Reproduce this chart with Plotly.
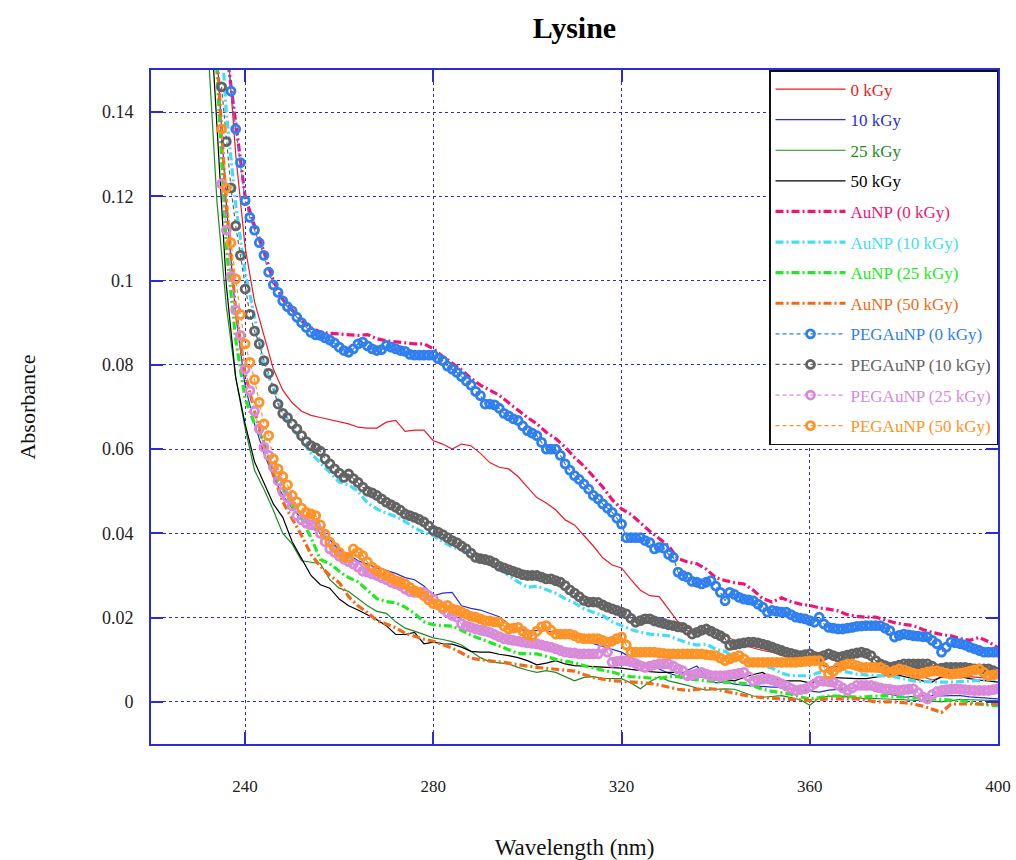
import plotly.graph_objects as go

# ---- wavelength grids (nm) ----
WL_LINE = list(range(232, 401, 2))   # solid / dashed spectra
WL_PEG = list(range(235, 401, 1))    # PEG-AuNP spectra (marker series)

# ---- Lysine solutions, absorbance ----
abs_0kGy = [
    0.22, 0.19, 0.160, 0.130, 0.108,
    0.095, 0.087, 0.079, 0.074, 0.071,
    0.069, 0.068, 0.0675, 0.067, 0.0665,
    0.066, 0.0652, 0.065, 0.065, 0.0664,
    0.0668, 0.0642, 0.0645, 0.0645, 0.062,
    0.0612, 0.060, 0.0612, 0.0608, 0.059,
    0.0568, 0.0557, 0.0553, 0.0535, 0.051,
    0.0485, 0.0472, 0.0456, 0.0432, 0.042,
    0.0395, 0.037, 0.0342, 0.0325, 0.0318,
    0.029, 0.0265, 0.0252, 0.025, 0.022,
    0.019, 0.0175, 0.0168, 0.017, 0.0172,
    0.0157, 0.0145, 0.0135, 0.0128, 0.0122,
    0.0118, 0.011, 0.0105, 0.010, 0.0095,
    0.009, 0.0082, 0.0085, 0.008, 0.0078,
    0.0075, 0.0072, 0.007, 0.0068, 0.0066,
    0.0062, 0.006, 0.0052, 0.0058, 0.006,
    0.0057, 0.006, 0.0058, 0.0056, 0.0058,
]
abs_10kGy = [
    0.19, 0.155, 0.118, 0.092, 0.075,
    0.066, 0.059, 0.0535, 0.049, 0.046,
    0.0435, 0.042, 0.040, 0.0385, 0.036,
    0.035, 0.0335, 0.0327, 0.0318, 0.0312,
    0.0305, 0.0295, 0.029, 0.0275, 0.0252,
    0.0258, 0.026, 0.0228, 0.0222, 0.0218,
    0.021, 0.0202, 0.0185, 0.0172, 0.0169,
    0.0169, 0.0169, 0.0163, 0.016, 0.0156,
    0.0145, 0.0138, 0.0132, 0.0125, 0.0118,
    0.0105, 0.0086, 0.0086, 0.0078, 0.0068,
    0.0062, 0.0075, 0.0085, 0.006, 0.0045,
    0.0048, 0.0042, 0.004, 0.0038, 0.0036,
    0.0035, 0.0035, 0.003, 0.0028, 0.0025,
    0.0023, 0.0028, 0.003, 0.0032, 0.0034,
    0.0035, 0.0025, 0.002, 0.0015, 0.0011,
    0.0013, 0.0015, 0.0015, 0.0014, 0.0015,
    0.0015, 0.0012, 0.001, 0.0008, 0.0007,
]
abs_25kGy = [
    0.158, 0.119, 0.094, 0.077, 0.065,
    0.055, 0.0505, 0.0455, 0.040, 0.0375,
    0.0335, 0.0332, 0.0328, 0.029, 0.027,
    0.0262, 0.0245, 0.0228, 0.0215, 0.021,
    0.019, 0.0175, 0.0168, 0.016, 0.0152,
    0.0148, 0.0143, 0.0135, 0.012, 0.0105,
    0.0095, 0.0092, 0.009, 0.0082, 0.0075,
    0.007, 0.0074, 0.007, 0.006, 0.005,
    0.0058, 0.006, 0.0056, 0.0055, 0.0055,
    0.0045, 0.0031, 0.0048, 0.006, 0.005,
    0.0045, 0.0039, 0.0033, 0.0028, 0.003,
    0.0031, 0.003, 0.0022, 0.0014, 0.0011,
    0.0013, 0.0015, 0.001, 0.0005, -0.0008,
    0.001, 0.0013, 0.0015, 0.0012, 0.0009,
    0.0007, 0.0008, 0.0007, 0.0007, 0.0006,
    0.0005, 0.0004, 0.0002, 0.0, 0.0003,
    0.0006, 0.0005, 0.0004, 0.0003, 0.0003,
]
abs_50kGy = [
    0.175, 0.137, 0.099, 0.077, 0.066,
    0.057, 0.052, 0.047, 0.0438, 0.038,
    0.034, 0.030, 0.0278, 0.027, 0.0244,
    0.0228, 0.0218, 0.0207, 0.0195, 0.0181,
    0.016, 0.016, 0.0165, 0.0138, 0.0142,
    0.0138, 0.0137, 0.013, 0.012, 0.0118,
    0.0118, 0.0113, 0.011, 0.0105, 0.0098,
    0.0088, 0.0092, 0.0098, 0.009, 0.0086,
    0.0085, 0.0084, 0.0083, 0.0082, 0.008,
    0.0077, 0.0074, 0.0072, 0.007, 0.007,
    0.007, 0.0065, 0.006, 0.0058, 0.0055,
    0.0052, 0.005, 0.0058, 0.0065, 0.007,
    0.0055, 0.005, 0.005, 0.005, 0.0045,
    0.005, 0.0058, 0.0057, 0.0055, 0.0055,
    0.0055, 0.0058, 0.0062, 0.0066, 0.006,
    0.0055, 0.005, 0.0047, 0.006, 0.007,
    0.006, 0.0055, 0.0052, 0.005, 0.0047,
]

# ---- Lysine + AuNP ----
aunp_0kGy = [
    0.25, 0.19, 0.155, 0.137, 0.120,
    0.113, 0.107, 0.100, 0.0955, 0.093,
    0.0905, 0.0888, 0.0878, 0.0875, 0.0873,
    0.0872, 0.087, 0.0872, 0.0862, 0.0857,
    0.0855, 0.0852, 0.085, 0.085, 0.0838,
    0.082, 0.0805, 0.0788, 0.0768, 0.0752,
    0.074, 0.0728, 0.071, 0.0692, 0.0675,
    0.066, 0.064, 0.0625, 0.0605, 0.058,
    0.056, 0.0535, 0.051, 0.048, 0.0458,
    0.0445, 0.0425, 0.0405, 0.0388, 0.037,
    0.034, 0.0332, 0.0328, 0.0315, 0.0295,
    0.0288, 0.0283, 0.028, 0.0265, 0.0245,
    0.0237, 0.0247, 0.0238, 0.0232, 0.0229,
    0.0223, 0.022, 0.0216, 0.0207, 0.0203,
    0.0201, 0.0201, 0.0195, 0.0188, 0.0184,
    0.0181, 0.0172, 0.0165, 0.016, 0.0157,
    0.015, 0.0146, 0.0153, 0.0143, 0.0128,
]
aunp_10kGy = [
    0.21, 0.175, 0.14, 0.118, 0.102,
    0.0915, 0.080, 0.0745, 0.069, 0.065,
    0.0622, 0.059, 0.0568, 0.0545, 0.0522,
    0.0515, 0.050, 0.0472, 0.0458, 0.0448,
    0.044, 0.0428, 0.0413, 0.0402, 0.0395,
    0.038, 0.0368, 0.036, 0.0354, 0.0345,
    0.0333, 0.0318, 0.030, 0.0285, 0.0272,
    0.0275, 0.0266, 0.0258, 0.0245, 0.0235,
    0.0221, 0.0213, 0.0205, 0.019, 0.018,
    0.0172, 0.0165, 0.0161, 0.0159, 0.0157,
    0.0148, 0.014, 0.0135, 0.0137, 0.0125,
    0.012, 0.0105, 0.0095, 0.009, 0.0086,
    0.008, 0.0068, 0.0062, 0.0062, 0.0062,
    0.007, 0.0076, 0.0075, 0.007, 0.0066,
    0.0064, 0.0063, 0.0062, 0.006, 0.0055,
    0.005, 0.0048, 0.0047, 0.0047, 0.0047,
    0.0048, 0.005, 0.0051, 0.0053, 0.0055,
]
aunp_25kGy = [
    0.185, 0.15, 0.108, 0.086, 0.072,
    0.066, 0.062, 0.054, 0.0508, 0.0465,
    0.0435, 0.039, 0.0338, 0.0328, 0.031,
    0.0295, 0.0285, 0.0265, 0.0245, 0.0238,
    0.0235, 0.0225, 0.021, 0.019, 0.0183,
    0.0181, 0.018, 0.017, 0.0158, 0.015,
    0.0142, 0.0133, 0.0124, 0.0115, 0.0114,
    0.0114, 0.0108, 0.0101, 0.0097, 0.0093,
    0.0086, 0.008, 0.0075, 0.0071, 0.0064,
    0.006, 0.0058, 0.0056, 0.0055, 0.006,
    0.006, 0.0055, 0.0052, 0.005, 0.0048,
    0.0047, 0.0046, 0.0044, 0.0038, 0.003,
    0.0025, 0.0021, 0.0018, 0.0012, 0.0007,
    0.001, 0.0014, 0.0014, 0.0012, 0.0011,
    0.0012, 0.0014, 0.0015, 0.0013, 0.0011,
    0.001, 0.0009, 0.0007, 0.0005, 0.0004,
    0.0003, 0.0, -0.0005, -0.0008, -0.0009,
]
aunp_50kGy = [
    0.19, 0.155, 0.118, 0.093, 0.078,
    0.069, 0.061, 0.054, 0.0475, 0.0435,
    0.0395, 0.035, 0.0322, 0.030, 0.0283,
    0.025, 0.0228, 0.0212, 0.0193, 0.0185,
    0.0176, 0.0163, 0.0155, 0.0149, 0.0144,
    0.0136, 0.0128, 0.0116, 0.0104, 0.010,
    0.0098, 0.0095, 0.0092, 0.0088, 0.0085,
    0.0082, 0.008, 0.0078, 0.0076, 0.0073,
    0.0065, 0.0058, 0.0054, 0.005, 0.0049,
    0.0047, 0.0046, 0.0044, 0.004, 0.0035,
    0.003, 0.0027, 0.003, 0.0032, 0.003,
    0.0025, 0.002, 0.0016, 0.0012, 0.001,
    0.0008, 0.0007, 0.0006, 0.0004, 0.0003,
    0.0005, 0.0007, 0.0007, 0.0007, 0.0007,
    0.0004, 0.0, 0.0, 0.0, -0.0002,
    -0.0005, -0.001, -0.0018, -0.0025, -0.0005,
    -0.0005, -0.0005, -0.0005, -0.0005, -0.0005,
]

# ---- Lysine + PEG-AuNP (1 nm steps, 235-400 nm) ----
peg_0kGy = [
    0.175, 0.158, 0.145, 0.136, 0.128, 0.119, 0.115, 0.112, 0.109, 0.106,
    0.102, 0.099, 0.0972, 0.0952, 0.0938, 0.0928, 0.0913, 0.090, 0.0889, 0.0877,
    0.0871, 0.087, 0.0864, 0.0859, 0.0852, 0.0842, 0.0834, 0.083, 0.0838, 0.085,
    0.0854, 0.0845, 0.0838, 0.0834, 0.0836, 0.0846, 0.0842, 0.0838, 0.0834, 0.0832,
    0.0825, 0.0823, 0.0823, 0.0823, 0.0823, 0.0823, 0.0815, 0.081, 0.0797, 0.079,
    0.0782, 0.0772, 0.0762, 0.0752, 0.0737, 0.0727, 0.0707, 0.0707, 0.0705, 0.0697,
    0.0685, 0.0679, 0.0672, 0.0668, 0.0655, 0.0644, 0.0638, 0.0632, 0.0616, 0.060,
    0.060, 0.060, 0.0585, 0.0565, 0.055, 0.0537, 0.0528, 0.0517, 0.0505, 0.049,
    0.0482, 0.047, 0.046, 0.045, 0.0436, 0.0422, 0.039, 0.039, 0.039, 0.039,
    0.0383, 0.0378, 0.0363, 0.0367, 0.0365, 0.035, 0.0343, 0.0308, 0.030, 0.0296,
    0.0286, 0.0284, 0.028, 0.0284, 0.0288, 0.0275, 0.026, 0.024, 0.026, 0.0255,
    0.0248, 0.0244, 0.0242, 0.024, 0.0232, 0.0225, 0.0213, 0.0217, 0.0215, 0.0213,
    0.0213, 0.0207, 0.0201, 0.0199, 0.0197, 0.0193, 0.0189, 0.0201, 0.0185, 0.0177,
    0.0175, 0.0173, 0.0173, 0.0175, 0.0177, 0.0179, 0.018, 0.0181, 0.0181, 0.0181,
    0.0181, 0.0175, 0.0169, 0.0154, 0.0158, 0.0161, 0.0159, 0.0157, 0.0156, 0.0155,
    0.0154, 0.0146, 0.0138, 0.0118, 0.013, 0.0142, 0.014, 0.0138, 0.0135, 0.013,
    0.0126, 0.0122, 0.0118, 0.0118, 0.0118, 0.0118,
]
peg_10kGy = [
    0.146, 0.133, 0.122, 0.113, 0.106, 0.098, 0.092, 0.088, 0.085, 0.081,
    0.078, 0.0743, 0.0707, 0.0685, 0.0675, 0.066, 0.0648, 0.0632, 0.0618, 0.0608,
    0.0603, 0.0595, 0.0577, 0.0565, 0.0553, 0.0543, 0.0533, 0.0541, 0.053, 0.0521,
    0.051, 0.050, 0.0496, 0.049, 0.0482, 0.0474, 0.0468, 0.0462, 0.0455, 0.0446,
    0.0442, 0.0438, 0.0433, 0.0427, 0.0418, 0.0407, 0.0403, 0.0397, 0.039, 0.0383,
    0.0378, 0.037, 0.0363, 0.0353, 0.0343, 0.034, 0.0338, 0.0335, 0.033, 0.0322,
    0.0318, 0.0314, 0.031, 0.0306, 0.0302, 0.030, 0.030, 0.030, 0.0296, 0.0292,
    0.0292, 0.0288, 0.0284, 0.0276, 0.0266, 0.0258, 0.025, 0.0241, 0.0237, 0.0237,
    0.0236, 0.023, 0.0225, 0.0221, 0.0217, 0.0213, 0.0209, 0.0198, 0.0189, 0.0193,
    0.0197, 0.0197, 0.0192, 0.0189, 0.0186, 0.0183, 0.0181, 0.0178, 0.0177, 0.017,
    0.0161, 0.0165, 0.017, 0.0173, 0.0168, 0.0162, 0.0157, 0.015, 0.0134, 0.0136,
    0.0138, 0.014, 0.0142, 0.0142, 0.014, 0.0137, 0.0134, 0.013, 0.0126, 0.0122,
    0.0118, 0.0115, 0.0112, 0.011, 0.0112, 0.0114, 0.0108, 0.0106, 0.011, 0.0114,
    0.011, 0.0106, 0.0108, 0.0111, 0.0114, 0.0116, 0.0118, 0.0115, 0.011, 0.0098,
    0.009, 0.0086, 0.0082, 0.0084, 0.0087, 0.009, 0.009, 0.009, 0.009, 0.009,
    0.009, 0.0085, 0.0078, 0.008, 0.0082, 0.0082, 0.0082, 0.0082, 0.0082, 0.008,
    0.0078, 0.0078, 0.0078, 0.0078, 0.0074, 0.007,
]
peg_25kGy = [
    0.123, 0.112, 0.101, 0.093, 0.087, 0.079, 0.0739, 0.069, 0.0648, 0.0605,
    0.0585, 0.0557, 0.0525, 0.0498, 0.0485, 0.0465, 0.0442, 0.0432, 0.0424, 0.042,
    0.0418, 0.040, 0.038, 0.0363, 0.0355, 0.0346, 0.0339, 0.0333, 0.0327, 0.032,
    0.031, 0.0308, 0.0304, 0.030, 0.0295, 0.029, 0.0284, 0.028, 0.0276, 0.0268,
    0.0262, 0.026, 0.026, 0.026, 0.0252, 0.0244, 0.0232, 0.0221, 0.0212, 0.0205,
    0.0201, 0.0185, 0.018, 0.0177, 0.0173, 0.017, 0.0168, 0.0165, 0.016, 0.0155,
    0.015, 0.0148, 0.0146, 0.0144, 0.0142, 0.014, 0.0139, 0.0138, 0.0135, 0.0132,
    0.013, 0.0126, 0.0122, 0.0118, 0.0117, 0.0116, 0.0114, 0.0114, 0.0114, 0.0114,
    0.0114, 0.0126, 0.0118, 0.0094, 0.0096, 0.0098, 0.0098, 0.0095, 0.0091, 0.0086,
    0.0082, 0.0085, 0.0088, 0.009, 0.009, 0.009, 0.0085, 0.0078, 0.0074, 0.0062,
    0.0064, 0.0067, 0.007, 0.0066, 0.0062, 0.0062, 0.0062, 0.0062, 0.0064, 0.0066,
    0.0068, 0.007, 0.006, 0.005, 0.0052, 0.0054, 0.0055, 0.0052, 0.0048, 0.0043,
    0.0038, 0.0032, 0.0027, 0.0029, 0.0031, 0.0036, 0.0043, 0.005, 0.0049, 0.0048,
    0.0047, 0.004, 0.0033, 0.0027, 0.0033, 0.0039, 0.0039, 0.0039, 0.0039, 0.0036,
    0.0033, 0.0031, 0.003, 0.0028, 0.0027, 0.0029, 0.003, 0.0031, 0.0022, 0.0012,
    0.0007, 0.0017, 0.0024, 0.0027, 0.0029, 0.003, 0.0031, 0.003, 0.0029, 0.0028,
    0.0027, 0.0027, 0.0027, 0.0027, 0.0029, 0.0031,
]
peg_50kGy = [
    0.136, 0.122, 0.109, 0.1004, 0.092, 0.085, 0.0806, 0.0765, 0.0711, 0.066,
    0.0632, 0.0577, 0.0553, 0.0535, 0.0515, 0.049, 0.0475, 0.046, 0.045, 0.0446,
    0.0442, 0.042, 0.0398, 0.0379, 0.0367, 0.0355, 0.0345, 0.0343, 0.0363, 0.0355,
    0.0347, 0.0332, 0.032, 0.0312, 0.0306, 0.030, 0.0294, 0.0288, 0.0284, 0.028,
    0.0272, 0.0264, 0.026, 0.0252, 0.0242, 0.0233, 0.0231, 0.0225, 0.0229, 0.0221,
    0.0218, 0.0213, 0.0208, 0.0203, 0.0201, 0.0197, 0.0193, 0.0192, 0.019, 0.0189,
    0.018, 0.0173, 0.0175, 0.0177, 0.0168, 0.016, 0.0157, 0.0168, 0.0178, 0.0181,
    0.017, 0.0161, 0.0161, 0.0161, 0.0161, 0.0157, 0.0152, 0.015, 0.015, 0.015,
    0.015, 0.0146, 0.0142, 0.0144, 0.015, 0.0154, 0.0135, 0.0118, 0.0118, 0.0118,
    0.0118, 0.0118, 0.0118, 0.0116, 0.0115, 0.0114, 0.0114, 0.0114, 0.0114, 0.0114,
    0.0114, 0.0114, 0.0114, 0.0112, 0.0111, 0.011, 0.0104, 0.0098, 0.0102, 0.0106,
    0.011, 0.0102, 0.0094, 0.0094, 0.0094, 0.0094, 0.0094, 0.0094, 0.0094, 0.0094,
    0.0094, 0.0094, 0.0094, 0.0095, 0.0096, 0.0097, 0.0098, 0.0098, 0.0082, 0.0066,
    0.0072, 0.0082, 0.0086, 0.009, 0.009, 0.0086, 0.0082, 0.0082, 0.0082, 0.0082,
    0.0082, 0.0076, 0.007, 0.0074, 0.0078, 0.0076, 0.0072, 0.0068, 0.0066, 0.0068,
    0.0071, 0.0073, 0.0074, 0.0071, 0.0068, 0.0066, 0.0067, 0.0068, 0.007, 0.0073,
    0.0076, 0.0078, 0.007, 0.0062, 0.0064, 0.0066,
]

Y_TICKS = [0, 0.02, 0.04, 0.06, 0.08, 0.1, 0.12, 0.14]
Y_TICK_TEXT = ["0", "0.02", "0.04", "0.06", "0.08", "0.1", "0.12", "0.14"]
X_TICKS = [240, 280, 320, 360, 400]

SERIF = "Liberation Serif, Times New Roman, serif"
AXIS_BLUE = "#2b2bdc"

solid_series = [
    ("0 kGy", abs_0kGy, "#ec1c24"),
    ("10 kGy", abs_10kGy, "#2b2bd9"),
    ("25 kGy", abs_25kGy, "#1f8a22"),
    ("50 kGy", abs_50kGy, "#000000"),
]
dashed_series = [
    ("AuNP (0 kGy)", aunp_0kGy, "#f01478"),
    ("AuNP (10 kGy)", aunp_10kGy, "#45dcfa"),
    ("AuNP (25 kGy)", aunp_25kGy, "#22ea22"),
    ("AuNP (50 kGy)", aunp_50kGy, "#f26a18"),
]
marker_series = [
    ("PEGAuNP (0 kGy)", peg_0kGy, "#2f7ff0"),
    ("PEGAuNP (10 kGy)", peg_10kGy, "#636363"),
    ("PEGAuNP (25 kGy)", peg_25kGy, "#d98ad8"),
    ("PEGAuNP (50 kGy)", peg_50kGy, "#ff9326"),
]


def label(text, color):
    return f"<span style='color:{color}'>{text}</span>"


fig = go.Figure()

for name, vals, color in solid_series:
    fig.add_trace(go.Scatter(
        x=WL_LINE, y=vals, mode="lines", name=label(name, color),
        legendgroup=name, line=dict(color=color, width=1.2),
    ))

for name, vals, color in dashed_series:
    fig.add_trace(go.Scatter(
        x=WL_LINE, y=vals, mode="lines", name=label(name, color),
        legendgroup=name, line=dict(color=color, width=3.2, dash="8px,3px,2px,3px"),
    ))

for name, vals, color in marker_series:
    fig.add_trace(go.Scatter(
        x=WL_PEG, y=vals, mode="lines+markers", name=label(name, color),
        legendgroup=name,
        line=dict(color=color, width=1.2, dash="4px,3px"),
        marker=dict(symbol="circle-open", size=8, color=color, line=dict(width=2.8, color=color)),
    ))

axis_common = dict(
    showline=True, linecolor=AXIS_BLUE, linewidth=2, mirror="ticks",
    ticks="inside", ticklen=12, tickwidth=2, tickcolor=AXIS_BLUE,
    showgrid=True, gridcolor=AXIS_BLUE, gridwidth=1, griddash="dot",
    zeroline=False, automargin=False,
)

fig.update_xaxes(
    range=[220, 400], tickvals=X_TICKS, ticklabelstandoff=26,
    tickfont=dict(family=SERIF, size=17, color="#222222"),
    title=dict(text="Wavelength (nm)", font=dict(family=SERIF, size=23, color="#111111"), standoff=44),
    **axis_common,
)
fig.update_yaxes(
    range=[-0.01, 0.15], tickvals=Y_TICKS, ticktext=Y_TICK_TEXT, ticklabelstandoff=12,
    tickfont=dict(family=SERIF, size=18, color="#222222"),
    title=dict(text="Absorbance", font=dict(family=SERIF, size=22, color="#111111"), standoff=60),
    **axis_common,
)

fig.update_layout(
    width=1016, height=860,
    margin=dict(l=151, r=18, t=70, b=116),
    paper_bgcolor="white", plot_bgcolor="white",
    title=dict(text="<b>Lysine</b>", x=0.5, xref="paper", y=1 - 27 / 860, yref="container",
               xanchor="center", yanchor="middle",
               font=dict(family=SERIF, size=30, color="#000000")),
    showlegend=True,
    legend=dict(
        x=1, y=1, xanchor="right", yanchor="top", xref="paper", yref="paper",
        bgcolor="white", bordercolor="#111111", borderwidth=1.5,
        font=dict(family=SERIF, size=17),
        tracegroupgap=5.5, itemwidth=70,
    ),
)

fig.write_html("out.html")
